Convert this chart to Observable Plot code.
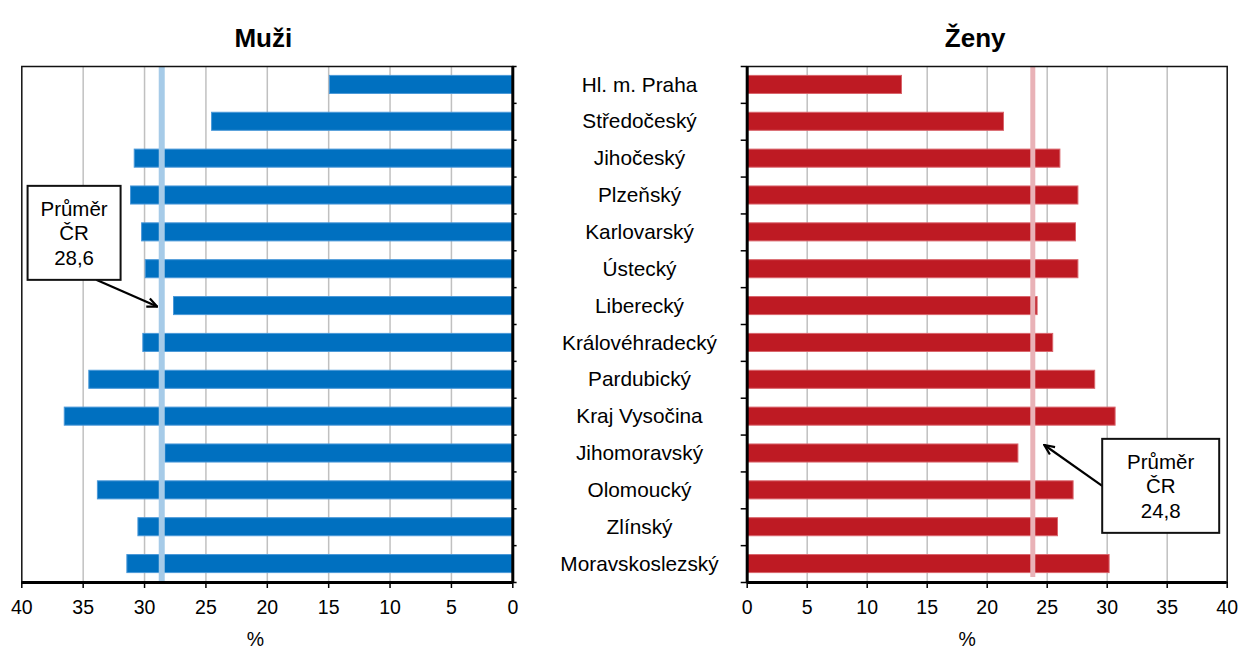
<!DOCTYPE html>
<html><head><meta charset="utf-8">
<script src="https://cdn.jsdelivr.net/npm/d3@7"></script>
<script src="https://cdn.jsdelivr.net/npm/@observablehq/plot@0.6"></script>
<style>
body{margin:0;background:#fff;}
#wrap{position:relative;width:1239px;height:653px;overflow:hidden;font-family:"Liberation Sans",Arial,sans-serif;background:#fff;}
#left{position:absolute;left:0;top:0;}
#right{position:absolute;left:530px;top:0;}
svg{overflow:visible;}
</style></head><body><div id="wrap"><div id="left"></div><div id="right"></div></div>
<script>
// ---- data ----
const regions = ["Hl. m. Praha","Středočeský","Jihočeský","Plzeňský","Karlovarský","Ústecký","Liberecký","Královéhradecký","Pardubický","Kraj Vysočina","Jihomoravský","Olomoucký","Zlínský","Moravskoslezský"];
const muzi = [14.9, 24.5, 30.8, 31.1, 30.2, 29.9, 27.6, 30.1, 34.5, 36.5, 28.3, 33.8, 30.5, 31.4];
const zeny = [12.9, 21.4, 26.1, 27.6, 27.4, 27.6, 24.2, 25.5, 29.0, 30.7, 22.6, 27.2, 25.9, 30.2];
const meanMuzi = 28.6;          // shown line & label
const meanZeny = 24.8;          // label value
const meanZenyLine = 23.8;      // position of drawn line in the picture
const xTicks = [0, 5, 10, 15, 20, 25, 30, 35, 40];
const titles = ["Muži", "Ženy"];
const axisLabel = "%";
const noteWord = ["Průměr", "ČR"];

const dataM = regions.map((r, i) => ({region: r, value: muzi[i]}));
const dataZ = regions.map((r, i) => ({region: r, value: zeny[i]}));

const H = 653, MT = 66, MB = 71;
const step = (H - MT - MB) / regions.length;
const FONT = "'Liberation Sans', Arial, sans-serif";
const FS = 19.5;
const yOpts = {domain: regions, paddingInner: 0.51, paddingOuter: 0.255, round: false, axis: null};
const grid = xTicks.filter(t => t > 0 && t < 40);

function boundaryRules(x1, x2) {
  return [
    Plot.ruleY(regions, {y: d => d, dy: -step / 2, x1, x2, stroke: "#000", strokeWidth: 1.5}),
    Plot.ruleY([regions[regions.length - 1]], {y: d => d, dy: step / 2, x1, x2, stroke: "#000", strokeWidth: 1.5})
  ];
}

const left = Plot.plot({
  width: 530, height: H,
  marginLeft: 21.3, marginRight: 17.7, marginTop: MT, marginBottom: MB,
  style: {fontFamily: FONT, fontSize: FS + "px", color: "#000", background: "#fff"},
  x: {domain: [0, 40], reverse: true, axis: null},
  y: yOpts,
  marks: [
    Plot.gridX(grid, {stroke: "#c0c0c0", strokeOpacity: 1, strokeWidth: 1.5}),
    Plot.barX(dataM, {y: "region", x: "value", fill: "#0070c0", stroke: "#4a98d8", strokeWidth: 1}),
    Plot.ruleX([meanMuzi], {stroke: "#a6cbe8", strokeWidth: 6, insetBottom: 1}),
    Plot.frame({stroke: "#111", strokeWidth: 1.5}),
    Plot.ruleX([0], {stroke: "#000", strokeWidth: 3}),
    Plot.ruleY([regions[regions.length - 1]], {y: d => d, dy: step / 2, x1: 40, x2: 0, stroke: "#000", strokeWidth: 3}),
    ...boundaryRules(0, -0.35),
    Plot.axisX({ticks: xTicks, tickSize: 6, tickPadding: 12, strokeWidth: 1.5, fontSize: FS, tickFormat: d => String(d), label: null}),
    Plot.text([titles[0]], {frameAnchor: "top", dy: -38, dx: -4, fontWeight: "bold", fontSize: 26}),
    Plot.text([axisLabel], {frameAnchor: "bottom", dy: 63, dx: -12, fontSize: FS})
  ]
});
document.getElementById("left").appendChild(left);

const right = Plot.plot({
  width: 709, height: H,
  marginLeft: 216.7, marginRight: 12.3, marginTop: MT, marginBottom: MB,
  style: {fontFamily: FONT, fontSize: FS + "px", color: "#000", background: "#fff"},
  x: {domain: [0, 40], axis: null},
  y: yOpts,
  marks: [
    Plot.gridX(grid, {stroke: "#c0c0c0", strokeOpacity: 1, strokeWidth: 1.5}),
    Plot.barX(dataZ, {y: "region", x: "value", fill: "#be1a23", stroke: "#d9646b", strokeWidth: 1}),
    Plot.ruleX([meanZenyLine], {stroke: "#e9b2b7", strokeWidth: 5, insetBottom: 5}),
    Plot.frame({stroke: "#111", strokeWidth: 1.5}),
    Plot.ruleX([0], {stroke: "#000", strokeWidth: 3}),
    Plot.ruleY([regions[regions.length - 1]], {y: d => d, dy: step / 2, x1: 0, x2: 40, stroke: "#000", strokeWidth: 3}),
    ...boundaryRules(0, -0.5),
    Plot.axisX({ticks: xTicks, tickSize: 6, tickPadding: 12, strokeWidth: 1.5, fontSize: FS, tickFormat: d => String(d), label: null}),
    Plot.text(regions, {y: d => d, frameAnchor: "left", dx: -107.7, textAnchor: "middle", fontSize: 20.8}),
    Plot.text([titles[1]], {frameAnchor: "top", dy: -38, dx: -12, fontWeight: "bold", fontSize: 26}),
    Plot.text([axisLabel], {frameAnchor: "bottom", dy: 63, dx: -20, fontSize: FS})
  ]
});
document.getElementById("right").appendChild(right);

// ---- annotations (positioned through the plots' scales) ----
function annotate(svg, opts) {
  const x = svg.scale("x"), y = svg.scale("y");
  const bw = y.bandwidth;
  const s = d3.select(svg);
  const id = "ah" + Math.random().toString(36).slice(2);
  s.append("defs").append("marker")
    .attr("id", id).attr("viewBox", "0 0 12 12").attr("refX", 11).attr("refY", 6)
    .attr("markerWidth", 12).attr("markerHeight", 12).attr("markerUnits", "userSpaceOnUse")
    .attr("orient", "auto")
    .append("path").attr("d", "M1,1.5 L11,6 L1,10.5").attr("fill", "none").attr("stroke", "#000").attr("stroke-width", 2.2);
  const cx = x.apply(opts.boxX), cy = y.apply(opts.boxRegion) + bw / 2 + opts.boxDy;
  const w = opts.w, h = opts.h;
  s.append("line")
    .attr("x1", opts.fromBottom ? x.apply(opts.fromX) : cx - w / 2)
    .attr("y1", opts.fromBottom ? cy + h / 2 : cy)
    .attr("x2", x.apply(opts.toX) + opts.toDx)
    .attr("y2", y.apply(opts.toRegion) + bw / 2 + opts.toDy)
    .attr("stroke", "#000").attr("stroke-width", 2.2).attr("marker-end", `url(#${id})`);
  s.append("rect").attr("x", cx - w / 2).attr("y", cy - h / 2).attr("width", w).attr("height", h)
    .attr("fill", "#fff").attr("stroke", "#111").attr("stroke-width", 2);
  const lines = [...noteWord, opts.label];
  const t = s.append("g").attr("font-family", FONT).attr("font-size", 20.5).attr("text-anchor", "middle");
  lines.forEach((l, i) => t.append("text").attr("x", cx).attr("y", cy + (i - 1) * 24.5).attr("dy", "0.36em").text(l));
}
const fmt = v => String(v).replace(".", ",");
annotate(left, {boxX: 35.7, boxRegion: "Karlovarský", boxDy: 1, w: 93, h: 94, label: fmt(meanMuzi),
  fromBottom: true, fromX: 33.9, toX: meanMuzi, toDx: -4, toRegion: "Liberecký", toDy: 1});
annotate(right, {boxX: 34.5, boxRegion: "Olomoucký", boxDy: -4, w: 117, h: 94, label: fmt(meanZeny),
  fromBottom: false, toX: meanZeny, toDx: 0, toRegion: "Jihomoravský", toDy: -8});
</script></body></html>
